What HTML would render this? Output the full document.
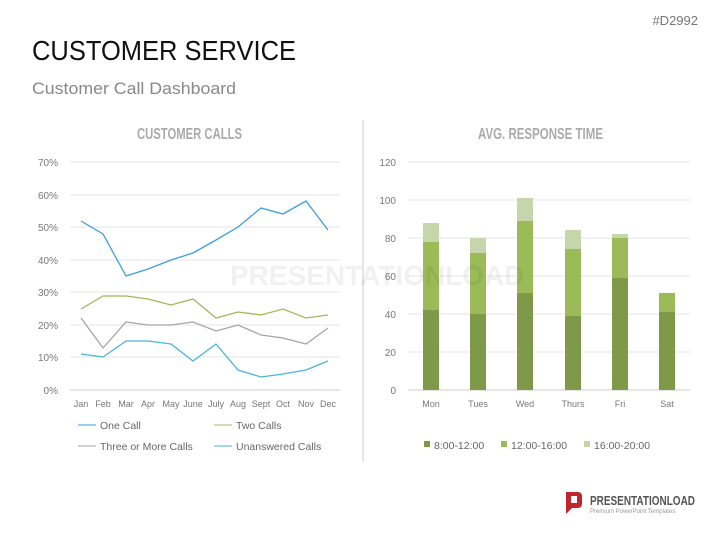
<!DOCTYPE html>
<html><head><meta charset="utf-8"><style>
body{margin:0;background:#fff;width:727px;height:545px;overflow:hidden;font-family:"Liberation Sans",sans-serif}
</style></head><body>
<svg width="727" height="545" xmlns="http://www.w3.org/2000/svg" font-family="Liberation Sans, sans-serif">
<text x="698" y="25" font-size="13" fill="#777" text-anchor="end">#D2992</text>
<text x="32" y="60" font-size="28" fill="#111" textLength="264" lengthAdjust="spacingAndGlyphs">CUSTOMER SERVICE</text>
<text x="32" y="94" font-size="17" fill="#888" textLength="204" lengthAdjust="spacingAndGlyphs">Customer Call Dashboard</text>
<line x1="363" y1="120" x2="363" y2="462" stroke="#ccc"/>
<text x="137" y="139" font-size="16" fill="#aaa" font-weight="bold" textLength="105" lengthAdjust="spacingAndGlyphs">CUSTOMER CALLS</text>
<text x="478" y="139" font-size="16" fill="#aaa" font-weight="bold" textLength="125" lengthAdjust="spacingAndGlyphs">AVG. RESPONSE TIME</text>
<g stroke="#e6e6e6">
<line x1="70" y1="162" x2="340" y2="162"/><line x1="70" y1="195" x2="340" y2="195"/><line x1="70" y1="227" x2="340" y2="227"/><line x1="70" y1="260" x2="340" y2="260"/><line x1="70" y1="292" x2="340" y2="292"/><line x1="70" y1="325" x2="340" y2="325"/><line x1="70" y1="357" x2="340" y2="357"/>
<line x1="408" y1="162" x2="690" y2="162"/><line x1="408" y1="200" x2="690" y2="200"/><line x1="408" y1="238" x2="690" y2="238"/><line x1="408" y1="276" x2="690" y2="276"/><line x1="408" y1="314" x2="690" y2="314"/><line x1="408" y1="352" x2="690" y2="352"/>
</g>
<line x1="70" y1="390" x2="340" y2="390" stroke="#ccc"/>
<line x1="408" y1="390" x2="690" y2="390" stroke="#ccc"/>
<g font-size="10" fill="#777" text-anchor="end">
<text x="58" y="166">70%</text><text x="58" y="199">60%</text><text x="58" y="231">50%</text><text x="58" y="264">40%</text><text x="58" y="296">30%</text><text x="58" y="329">20%</text><text x="58" y="361">10%</text><text x="58" y="394">0%</text>
<text x="396" y="166">120</text><text x="396" y="204">100</text><text x="396" y="242">80</text><text x="396" y="280">60</text><text x="396" y="318">40</text><text x="396" y="356">20</text><text x="396" y="394">0</text>
</g>
<g font-size="9" fill="#777" text-anchor="middle">
<text x="81" y="407">Jan</text><text x="103" y="407">Feb</text><text x="126" y="407">Mar</text><text x="148" y="407">Apr</text><text x="171" y="407">May</text><text x="193" y="407">June</text><text x="216" y="407">July</text><text x="238" y="407">Aug</text><text x="261" y="407">Sept</text><text x="283" y="407">Oct</text><text x="306" y="407">Nov</text><text x="328" y="407">Dec</text>
<text x="431" y="407">Mon</text><text x="478" y="407">Tues</text><text x="525" y="407">Wed</text><text x="573" y="407">Thurs</text><text x="620" y="407">Fri</text><text x="667" y="407">Sat</text>
</g>
<g fill="none" stroke-width="1.3">
<polyline stroke="#3d9ee0" points="81,221 103,234 126,276 148,269 171,260 193,253 216,240 238,227 261,208 283,214 306,201 328,230"/>
<polyline stroke="#9bbb59" points="81,309 103,296 126,296 148,299 171,305 193,299 216,318 238,312 261,315 283,309 306,318 328,315"/>
<polyline stroke="#a5a5a5" points="81,318 103,348 126,322 148,325 171,325 193,322 216,331 238,325 261,335 283,338 306,344 328,328"/>
<polyline stroke="#4bb6d6" points="81,354 103,357 126,341 148,341 171,344 193,361 216,344 238,370 261,377 283,374 306,370 328,361"/>
</g>
<g>
<rect x="423" y="310" width="16" height="80" fill="#7e9a48"/><rect x="423" y="242" width="16" height="68" fill="#9bbb59"/><rect x="423" y="223" width="16" height="19" fill="#c5d7aa"/>
<rect x="470" y="314" width="16" height="76" fill="#7e9a48"/><rect x="470" y="253" width="16" height="61" fill="#9bbb59"/><rect x="470" y="238" width="16" height="15" fill="#c5d7aa"/>
<rect x="517" y="293" width="16" height="97" fill="#7e9a48"/><rect x="517" y="221" width="16" height="72" fill="#9bbb59"/><rect x="517" y="198" width="16" height="23" fill="#c5d7aa"/>
<rect x="565" y="316" width="16" height="74" fill="#7e9a48"/><rect x="565" y="249" width="16" height="67" fill="#9bbb59"/><rect x="565" y="230" width="16" height="19" fill="#c5d7aa"/>
<rect x="612" y="278" width="16" height="112" fill="#7e9a48"/><rect x="612" y="238" width="16" height="40" fill="#9bbb59"/><rect x="612" y="234" width="16" height="4" fill="#c5d7aa"/>
<rect x="659" y="312" width="16" height="78" fill="#7e9a48"/><rect x="659" y="293" width="16" height="19" fill="#9bbb59"/>
</g>
<g font-size="10.5" fill="#666">
<line x1="78" y1="425" x2="96" y2="425" stroke="#3d9ee0"/><text x="100" y="429">One Call</text>
<line x1="214" y1="425" x2="232" y2="425" stroke="#9bbb59"/><text x="236" y="429">Two Calls</text>
<line x1="78" y1="446" x2="96" y2="446" stroke="#a5a5a5"/><text x="100" y="450">Three or More Calls</text>
<line x1="214" y1="446" x2="232" y2="446" stroke="#4bb6d6"/><text x="236" y="450">Unanswered Calls</text>
<rect x="424" y="441" width="6" height="6" fill="#7e9a48"/><text x="434" y="449">8:00-12:00</text>
<rect x="501" y="441" width="6" height="6" fill="#9bbb59"/><text x="511" y="449">12:00-16:00</text>
<rect x="584" y="441" width="6" height="6" fill="#c5d7aa"/><text x="594" y="449">16:00-20:00</text>
</g>
<text x="230" y="285" font-size="28" font-weight="bold" fill="#000" opacity="0.05">PRESENTATIONLOAD</text>
<path d="M566 492h12a4 4 0 0 1 4 4v8a4 4 0 0 1-4 4h-6l-6 6z" fill="#c0272d"/>
<rect x="571" y="496" width="6" height="7" fill="#fff"/>
<text x="590" y="505" font-size="13" font-weight="bold" fill="#555" textLength="105" lengthAdjust="spacingAndGlyphs">PRESENTATIONLOAD</text>
<text x="590" y="513" font-size="6" fill="#999">Premium PowerPoint Templates</text>
</svg>
</body></html>
